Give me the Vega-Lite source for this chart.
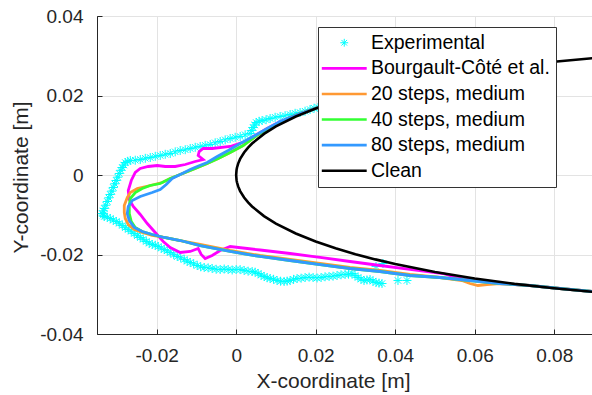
{
  "$schema": "https://vega.github.io/schema/vega-lite/v6.json",
  "width": 495,
  "height": 318,
  "autosize": {"type": "none"},
  "padding": {"left": 97, "top": 16, "right": 0, "bottom": 61},
  "background": "white",
  "config": {
    "view": {"stroke": "#262626", "strokeWidth": 1},
    "font": "Liberation Sans",
    "axis": {
      "domainColor": "#262626",
      "tickColor": "#262626",
      "tickSize": -5,
      "gridColor": "#E3E3E3",
      "labelFontSize": 19,
      "labelColor": "#262626",
      "labelFlush": false,
      "labelOverlap": false,
      "titleFontSize": 21,
      "titleColor": "#262626",
      "titleFontWeight": "normal"
    }
  },
  "datasets": {
    "exp": [
      {"series":"Experimental","x":0.02060,"y":0.01698},{"series":"Experimental","x":0.01960,"y":0.01680},{"series":"Experimental","x":0.01859,"y":0.01648},{"series":"Experimental","x":0.01733,"y":0.01605},{"series":"Experimental","x":0.01608,"y":0.01572},{"series":"Experimental","x":0.01483,"y":0.01552},{"series":"Experimental","x":0.01357,"y":0.01522},{"series":"Experimental","x":0.01231,"y":0.01492},{"series":"Experimental","x":0.01106,"y":0.01472},{"series":"Experimental","x":0.00980,"y":0.01452},{"series":"Experimental","x":0.00854,"y":0.01421},{"series":"Experimental","x":0.00753,"y":0.01391},{"series":"Experimental","x":0.00653,"y":0.01371},{"series":"Experimental","x":0.00578,"y":0.01351},{"series":"Experimental","x":0.00503,"y":0.01321},{"series":"Experimental","x":0.00465,"y":0.01258},{"series":"Experimental","x":0.00427,"y":0.01195},{"series":"Experimental","x":0.00390,"y":0.01120},{"series":"Experimental","x":0.00352,"y":0.01044},{"series":"Experimental","x":0.00226,"y":0.01012},{"series":"Experimental","x":0.00101,"y":0.00969},{"series":"Experimental","x":-0.00025,"y":0.00949},{"series":"Experimental","x":-0.00151,"y":0.00918},{"series":"Experimental","x":-0.00276,"y":0.00885},{"series":"Experimental","x":-0.00402,"y":0.00843},{"series":"Experimental","x":-0.00528,"y":0.00810},{"series":"Experimental","x":-0.00653,"y":0.00767},{"series":"Experimental","x":-0.00779,"y":0.00747},{"series":"Experimental","x":-0.00905,"y":0.00717},{"series":"Experimental","x":-0.01030,"y":0.00697},{"series":"Experimental","x":-0.01156,"y":0.00667},{"series":"Experimental","x":-0.01281,"y":0.00636},{"series":"Experimental","x":-0.01407,"y":0.00616},{"series":"Experimental","x":-0.01533,"y":0.00583},{"series":"Experimental","x":-0.01658,"y":0.00541},{"series":"Experimental","x":-0.01784,"y":0.00521},{"series":"Experimental","x":-0.01910,"y":0.00491},{"series":"Experimental","x":-0.02035,"y":0.00470},{"series":"Experimental","x":-0.02161,"y":0.00440},{"series":"Experimental","x":-0.02286,"y":0.00420},{"series":"Experimental","x":-0.02412,"y":0.00390},{"series":"Experimental","x":-0.02538,"y":0.00372},{"series":"Experimental","x":-0.02663,"y":0.00365},{"series":"Experimental","x":-0.02726,"y":0.00345},{"series":"Experimental","x":-0.02789,"y":0.00314},{"series":"Experimental","x":-0.02826,"y":0.00250},{"series":"Experimental","x":-0.02864,"y":0.00189},{"series":"Experimental","x":-0.02902,"y":0.00118},{"series":"Experimental","x":-0.02940,"y":0.00038},{"series":"Experimental","x":-0.02977,"y":-0.00055},{"series":"Experimental","x":-0.03015,"y":-0.00138},{"series":"Experimental","x":-0.03053,"y":-0.00221},{"series":"Experimental","x":-0.03090,"y":-0.00314},{"series":"Experimental","x":-0.03128,"y":-0.00405},{"series":"Experimental","x":-0.03166,"y":-0.00491},{"series":"Experimental","x":-0.03204,"y":-0.00574},{"series":"Experimental","x":-0.03241,"y":-0.00667},{"series":"Experimental","x":-0.03279,"y":-0.00760},{"series":"Experimental","x":-0.03317,"y":-0.00843},{"series":"Experimental","x":-0.03342,"y":-0.00901},{"series":"Experimental","x":-0.03367,"y":-0.00969},{"series":"Experimental","x":-0.03347,"y":-0.01010},{"series":"Experimental","x":-0.03317,"y":-0.01044},{"series":"Experimental","x":-0.03241,"y":-0.01065},{"series":"Experimental","x":-0.03166,"y":-0.01094},{"series":"Experimental","x":-0.03090,"y":-0.01137},{"series":"Experimental","x":-0.03015,"y":-0.01170},{"series":"Experimental","x":-0.02940,"y":-0.01215},{"series":"Experimental","x":-0.02864,"y":-0.01270},{"series":"Experimental","x":-0.02789,"y":-0.01325},{"series":"Experimental","x":-0.02714,"y":-0.01371},{"series":"Experimental","x":-0.02638,"y":-0.01416},{"series":"Experimental","x":-0.02563,"y":-0.01472},{"series":"Experimental","x":-0.02487,"y":-0.01527},{"series":"Experimental","x":-0.02412,"y":-0.01572},{"series":"Experimental","x":-0.02337,"y":-0.01618},{"series":"Experimental","x":-0.02261,"y":-0.01673},{"series":"Experimental","x":-0.02186,"y":-0.01716},{"series":"Experimental","x":-0.02111,"y":-0.01748},{"series":"Experimental","x":-0.02035,"y":-0.01768},{"series":"Experimental","x":-0.01960,"y":-0.01799},{"series":"Experimental","x":-0.01884,"y":-0.01842},{"series":"Experimental","x":-0.01809,"y":-0.01874},{"series":"Experimental","x":-0.01733,"y":-0.01908},{"series":"Experimental","x":-0.01658,"y":-0.01950},{"series":"Experimental","x":-0.01570,"y":-0.02005},{"series":"Experimental","x":-0.01482,"y":-0.02050},{"series":"Experimental","x":-0.01394,"y":-0.02083},{"series":"Experimental","x":-0.01307,"y":-0.02126},{"series":"Experimental","x":-0.01231,"y":-0.02170},{"series":"Experimental","x":-0.01156,"y":-0.02201},{"series":"Experimental","x":-0.01068,"y":-0.02235},{"series":"Experimental","x":-0.00980,"y":-0.02277},{"series":"Experimental","x":-0.00892,"y":-0.02309},{"series":"Experimental","x":-0.00804,"y":-0.02327},{"series":"Experimental","x":-0.00704,"y":-0.02336},{"series":"Experimental","x":-0.00603,"y":-0.02352},{"series":"Experimental","x":-0.00503,"y":-0.02372},{"series":"Experimental","x":-0.00402,"y":-0.02377},{"series":"Experimental","x":-0.00301,"y":-0.02365},{"series":"Experimental","x":-0.00201,"y":-0.02377},{"series":"Experimental","x":-0.00100,"y":-0.02390},{"series":"Experimental","x":0.00000,"y":-0.02377},{"series":"Experimental","x":0.00100,"y":-0.02380},{"series":"Experimental","x":0.00201,"y":-0.02402},{"series":"Experimental","x":0.00301,"y":-0.02420},{"series":"Experimental","x":0.00402,"y":-0.02428},{"series":"Experimental","x":0.00477,"y":-0.02445},{"series":"Experimental","x":0.00553,"y":-0.02478},{"series":"Experimental","x":0.00628,"y":-0.02520},{"series":"Experimental","x":0.00704,"y":-0.02553},{"series":"Experimental","x":0.00779,"y":-0.02585},{"series":"Experimental","x":0.00854,"y":-0.02604},{"series":"Experimental","x":0.00942,"y":-0.02624},{"series":"Experimental","x":0.01030,"y":-0.02654},{"series":"Experimental","x":0.01118,"y":-0.02672},{"series":"Experimental","x":0.01206,"y":-0.02679},{"series":"Experimental","x":0.01282,"y":-0.02670},{"series":"Experimental","x":0.01357,"y":-0.02654},{"series":"Experimental","x":0.01445,"y":-0.02625},{"series":"Experimental","x":0.01533,"y":-0.02604},{"series":"Experimental","x":0.01633,"y":-0.02596},{"series":"Experimental","x":0.01734,"y":-0.02579},{"series":"Experimental","x":0.01835,"y":-0.02570},{"series":"Experimental","x":0.01935,"y":-0.02579},{"series":"Experimental","x":0.02035,"y":-0.02590},{"series":"Experimental","x":0.02136,"y":-0.02579},{"series":"Experimental","x":0.02236,"y":-0.02560},{"series":"Experimental","x":0.02337,"y":-0.02553},{"series":"Experimental","x":0.02437,"y":-0.02545},{"series":"Experimental","x":0.02538,"y":-0.02528},{"series":"Experimental","x":0.02638,"y":-0.02510},{"series":"Experimental","x":0.02739,"y":-0.02503},{"series":"Experimental","x":0.02827,"y":-0.02495},{"series":"Experimental","x":0.02915,"y":-0.02478},{"series":"Experimental","x":0.02990,"y":-0.02530},{"series":"Experimental","x":0.03065,"y":-0.02579},{"series":"Experimental","x":0.03140,"y":-0.02620},{"series":"Experimental","x":0.03216,"y":-0.02654},{"series":"Experimental","x":0.03290,"y":-0.02640},{"series":"Experimental","x":0.03367,"y":-0.02629},{"series":"Experimental","x":0.03442,"y":-0.02670},{"series":"Experimental","x":0.03518,"y":-0.02704},{"series":"Experimental","x":0.03593,"y":-0.02720},{"series":"Experimental","x":0.03668,"y":-0.02730},{"series":"Experimental","x":0.03518,"y":-0.02302},{"series":"Experimental","x":0.03693,"y":-0.02226},{"series":"Experimental","x":0.04070,"y":-0.02654},{"series":"Experimental","x":0.04296,"y":-0.02654}
    ],
    "lines": [
      {"s":"B","i":0,"x":0.02362,"y":0.01799},{"s":"B","i":1,"x":0.02060,"y":0.01698},{"s":"B","i":2,"x":0.01608,"y":0.01547},{"s":"B","i":3,"x":0.01357,"y":0.01447},{"s":"B","i":4,"x":0.01106,"y":0.01346},{"s":"B","i":5,"x":0.00779,"y":0.01170},{"s":"B","i":6,"x":0.00477,"y":0.00994},{"s":"B","i":7,"x":0.00226,"y":0.00843},{"s":"B","i":8,"x":-0.00151,"y":0.00717},{"s":"B","i":9,"x":-0.00603,"y":0.00667},{"s":"B","i":10,"x":-0.00829,"y":0.00667},{"s":"B","i":11,"x":-0.00930,"y":0.00591},{"s":"B","i":12,"x":-0.00955,"y":0.00491},{"s":"B","i":13,"x":-0.00829,"y":0.00390},{"s":"B","i":14,"x":-0.01030,"y":0.00340},{"s":"B","i":15,"x":-0.01281,"y":0.00264},{"s":"B","i":16,"x":-0.01533,"y":0.00214},{"s":"B","i":17,"x":-0.01784,"y":0.00214},{"s":"B","i":18,"x":-0.01985,"y":0.00239},{"s":"B","i":19,"x":-0.02211,"y":0.00214},{"s":"B","i":20,"x":-0.02412,"y":0.00164},{"s":"B","i":21,"x":-0.02538,"y":0.00063},{"s":"B","i":22,"x":-0.02638,"y":-0.00138},{"s":"B","i":23,"x":-0.02714,"y":-0.00390},{"s":"B","i":24,"x":-0.02688,"y":-0.00616},{"s":"B","i":25,"x":-0.02588,"y":-0.00792},{"s":"B","i":26,"x":-0.02412,"y":-0.00994},{"s":"B","i":27,"x":-0.02236,"y":-0.01220},{"s":"B","i":28,"x":-0.02035,"y":-0.01447},{"s":"B","i":29,"x":-0.01834,"y":-0.01673},{"s":"B","i":30,"x":-0.01658,"y":-0.01824},{"s":"B","i":31,"x":-0.01407,"y":-0.01950},{"s":"B","i":32,"x":-0.01156,"y":-0.01924},{"s":"B","i":33,"x":-0.00955,"y":-0.01849},{"s":"B","i":34,"x":-0.00879,"y":-0.02000},{"s":"B","i":35,"x":-0.00779,"y":-0.02101},{"s":"B","i":36,"x":-0.00603,"y":-0.02025},{"s":"B","i":37,"x":-0.00402,"y":-0.01899},{"s":"B","i":38,"x":-0.00151,"y":-0.01799},{"s":"B","i":39,"x":0.00603,"y":-0.01887},{"s":"B","i":40,"x":0.01357,"y":-0.01975},{"s":"B","i":41,"x":0.02111,"y":-0.02075},{"s":"B","i":42,"x":0.02864,"y":-0.02176},{"s":"B","i":43,"x":0.03618,"y":-0.02277},{"s":"B","i":44,"x":0.04372,"y":-0.02377},{"s":"B","i":45,"x":0.05201,"y":-0.02478},{"s":"B","i":46,"x":0.05628,"y":-0.02604},{"s":"B","i":47,"x":0.06633,"y":-0.02730},{"s":"B","i":48,"x":0.07387,"y":-0.02780},{"s":"B","i":49,"x":0.08141,"y":-0.02855},{"s":"B","i":50,"x":0.08945,"y":-0.02931},
      {"s":"S20","i":0,"x":0.02362,"y":0.01799},{"s":"S20","i":1,"x":0.02060,"y":0.01698},{"s":"S20","i":2,"x":0.01608,"y":0.01547},{"s":"S20","i":3,"x":0.01357,"y":0.01447},{"s":"S20","i":4,"x":0.01106,"y":0.01321},{"s":"S20","i":5,"x":0.00854,"y":0.01195},{"s":"S20","i":6,"x":0.00553,"y":0.01019},{"s":"S20","i":7,"x":0.00176,"y":0.00742},{"s":"S20","i":8,"x":-0.00151,"y":0.00566},{"s":"S20","i":9,"x":-0.00452,"y":0.00415},{"s":"S20","i":10,"x":-0.00729,"y":0.00289},{"s":"S20","i":11,"x":-0.01030,"y":0.00164},{"s":"S20","i":12,"x":-0.01407,"y":0.00013},{"s":"S20","i":13,"x":-0.01658,"y":-0.00088},{"s":"S20","i":14,"x":-0.01859,"y":-0.00189},{"s":"S20","i":15,"x":-0.02161,"y":-0.00264},{"s":"S20","i":16,"x":-0.02487,"y":-0.00340},{"s":"S20","i":17,"x":-0.02663,"y":-0.00440},{"s":"S20","i":18,"x":-0.02739,"y":-0.00566},{"s":"S20","i":19,"x":-0.02814,"y":-0.00767},{"s":"S20","i":20,"x":-0.02814,"y":-0.00943},{"s":"S20","i":21,"x":-0.02789,"y":-0.01094},{"s":"S20","i":22,"x":-0.02714,"y":-0.01245},{"s":"S20","i":23,"x":-0.02563,"y":-0.01371},{"s":"S20","i":24,"x":-0.02362,"y":-0.01447},{"s":"S20","i":25,"x":-0.02111,"y":-0.01522},{"s":"S20","i":26,"x":-0.01809,"y":-0.01572},{"s":"S20","i":27,"x":-0.01407,"y":-0.01648},{"s":"S20","i":28,"x":-0.00905,"y":-0.01748},{"s":"S20","i":29,"x":-0.00151,"y":-0.01899},{"s":"S20","i":30,"x":0.00603,"y":-0.02025},{"s":"S20","i":31,"x":0.01357,"y":-0.02126},{"s":"S20","i":32,"x":0.02111,"y":-0.02226},{"s":"S20","i":33,"x":0.02864,"y":-0.02327},{"s":"S20","i":34,"x":0.03618,"y":-0.02402},{"s":"S20","i":35,"x":0.04372,"y":-0.02503},{"s":"S20","i":36,"x":0.05126,"y":-0.02579},{"s":"S20","i":37,"x":0.05678,"y":-0.02654},{"s":"S20","i":38,"x":0.05879,"y":-0.02730},{"s":"S20","i":39,"x":0.06080,"y":-0.02780},{"s":"S20","i":40,"x":0.06307,"y":-0.02755},{"s":"S20","i":41,"x":0.06633,"y":-0.02730},{"s":"S20","i":42,"x":0.07387,"y":-0.02780},{"s":"S20","i":43,"x":0.08141,"y":-0.02855},{"s":"S20","i":44,"x":0.08945,"y":-0.02931},
      {"s":"S40","i":0,"x":0.02362,"y":0.01799},{"s":"S40","i":1,"x":0.02060,"y":0.01698},{"s":"S40","i":2,"x":0.01608,"y":0.01547},{"s":"S40","i":3,"x":0.01357,"y":0.01447},{"s":"S40","i":4,"x":0.01106,"y":0.01321},{"s":"S40","i":5,"x":0.00854,"y":0.01195},{"s":"S40","i":6,"x":0.00553,"y":0.01019},{"s":"S40","i":7,"x":0.00176,"y":0.00742},{"s":"S40","i":8,"x":-0.00151,"y":0.00566},{"s":"S40","i":9,"x":-0.00452,"y":0.00415},{"s":"S40","i":10,"x":-0.00729,"y":0.00289},{"s":"S40","i":11,"x":-0.01030,"y":0.00164},{"s":"S40","i":12,"x":-0.01407,"y":0.00013},{"s":"S40","i":13,"x":-0.01658,"y":-0.00088},{"s":"S40","i":14,"x":-0.01910,"y":-0.00214},{"s":"S40","i":15,"x":-0.02161,"y":-0.00264},{"s":"S40","i":16,"x":-0.02362,"y":-0.00340},{"s":"S40","i":17,"x":-0.02538,"y":-0.00440},{"s":"S40","i":18,"x":-0.02663,"y":-0.00591},{"s":"S40","i":19,"x":-0.02688,"y":-0.00767},{"s":"S40","i":20,"x":-0.02688,"y":-0.00969},{"s":"S40","i":21,"x":-0.02638,"y":-0.01170},{"s":"S40","i":22,"x":-0.02538,"y":-0.01321},{"s":"S40","i":23,"x":-0.02362,"y":-0.01421},{"s":"S40","i":24,"x":-0.02111,"y":-0.01497},{"s":"S40","i":25,"x":-0.01809,"y":-0.01572},{"s":"S40","i":26,"x":-0.01407,"y":-0.01648},{"s":"S40","i":27,"x":-0.00905,"y":-0.01774},{"s":"S40","i":28,"x":-0.00151,"y":-0.01924},{"s":"S40","i":29,"x":0.00603,"y":-0.02050},{"s":"S40","i":30,"x":0.01357,"y":-0.02151},{"s":"S40","i":31,"x":0.02111,"y":-0.02252},{"s":"S40","i":32,"x":0.02864,"y":-0.02352},{"s":"S40","i":33,"x":0.03618,"y":-0.02428},{"s":"S40","i":34,"x":0.04372,"y":-0.02528},{"s":"S40","i":35,"x":0.05126,"y":-0.02579},{"s":"S40","i":36,"x":0.05879,"y":-0.02654},{"s":"S40","i":37,"x":0.06633,"y":-0.02730},{"s":"S40","i":38,"x":0.07387,"y":-0.02780},{"s":"S40","i":39,"x":0.08141,"y":-0.02855},{"s":"S40","i":40,"x":0.08945,"y":-0.02931},
      {"s":"S80","i":0,"x":0.02362,"y":0.01799},{"s":"S80","i":1,"x":0.02060,"y":0.01698},{"s":"S80","i":2,"x":0.01608,"y":0.01547},{"s":"S80","i":3,"x":0.01357,"y":0.01447},{"s":"S80","i":4,"x":0.01106,"y":0.01346},{"s":"S80","i":5,"x":0.00779,"y":0.01170},{"s":"S80","i":6,"x":0.00477,"y":0.00994},{"s":"S80","i":7,"x":0.00101,"y":0.00792},{"s":"S80","i":8,"x":-0.00201,"y":0.00616},{"s":"S80","i":9,"x":-0.00477,"y":0.00465},{"s":"S80","i":10,"x":-0.00729,"y":0.00314},{"s":"S80","i":11,"x":-0.00980,"y":0.00214},{"s":"S80","i":12,"x":-0.01156,"y":0.00138},{"s":"S80","i":13,"x":-0.01407,"y":0.00013},{"s":"S80","i":14,"x":-0.01608,"y":-0.00088},{"s":"S80","i":15,"x":-0.01759,"y":-0.00239},{"s":"S80","i":16,"x":-0.01910,"y":-0.00365},{"s":"S80","i":17,"x":-0.02111,"y":-0.00440},{"s":"S80","i":18,"x":-0.02412,"y":-0.00541},{"s":"S80","i":19,"x":-0.02613,"y":-0.00641},{"s":"S80","i":20,"x":-0.02714,"y":-0.00792},{"s":"S80","i":21,"x":-0.02739,"y":-0.00969},{"s":"S80","i":22,"x":-0.02688,"y":-0.01145},{"s":"S80","i":23,"x":-0.02563,"y":-0.01321},{"s":"S80","i":24,"x":-0.02362,"y":-0.01421},{"s":"S80","i":25,"x":-0.02111,"y":-0.01497},{"s":"S80","i":26,"x":-0.01809,"y":-0.01572},{"s":"S80","i":27,"x":-0.01407,"y":-0.01648},{"s":"S80","i":28,"x":-0.00905,"y":-0.01774},{"s":"S80","i":29,"x":-0.00151,"y":-0.01924},{"s":"S80","i":30,"x":0.00603,"y":-0.02050},{"s":"S80","i":31,"x":0.01357,"y":-0.02151},{"s":"S80","i":32,"x":0.02111,"y":-0.02252},{"s":"S80","i":33,"x":0.02864,"y":-0.02352},{"s":"S80","i":34,"x":0.03618,"y":-0.02428},{"s":"S80","i":35,"x":0.04372,"y":-0.02528},{"s":"S80","i":36,"x":0.05126,"y":-0.02579},{"s":"S80","i":37,"x":0.05879,"y":-0.02654},{"s":"S80","i":38,"x":0.06633,"y":-0.02730},{"s":"S80","i":39,"x":0.07387,"y":-0.02780},{"s":"S80","i":40,"x":0.08141,"y":-0.02855},{"s":"S80","i":41,"x":0.08945,"y":-0.02931},
      {"s":"C","i":0,"x":0.09,"y":0.02943},{"s":"C","i":1,"x":0.08,"y":0.02851},{"s":"C","i":2,"x":0.07,"y":0.02739},{"s":"C","i":3,"x":0.06,"y":0.02603},{"s":"C","i":4,"x":0.05,"y":0.02440},{"s":"C","i":5,"x":0.04,"y":0.02240},{"s":"C","i":6,"x":0.035,"y":0.02123},{"s":"C","i":7,"x":0.03,"y":0.01993},{"s":"C","i":8,"x":0.025,"y":0.01844},{"s":"C","i":9,"x":0.02,"y":0.01673},{"s":"C","i":10,"x":0.015,"y":0.01471},{"s":"C","i":11,"x":0.01,"y":0.01222},{"s":"C","i":12,"x":0.007,"y":0.01034},{"s":"C","i":13,"x":0.004,"y":0.00792},{"s":"C","i":14,"x":0.003,"y":0.00690},{"s":"C","i":15,"x":0.002,"y":0.00567},{"s":"C","i":16,"x":0.001,"y":0.00404},{"s":"C","i":17,"x":0.0005,"y":0.00287},{"s":"C","i":18,"x":0.0002,"y":0.00183},{"s":"C","i":19,"x":0.0001,"y":0.00129},{"s":"C","i":20,"x":0,"y":0},{"s":"C","i":21,"x":0.0001,"y":-0.00129},{"s":"C","i":22,"x":0.0002,"y":-0.00183},{"s":"C","i":23,"x":0.0005,"y":-0.00287},{"s":"C","i":24,"x":0.001,"y":-0.00404},{"s":"C","i":25,"x":0.002,"y":-0.00567},{"s":"C","i":26,"x":0.003,"y":-0.00690},{"s":"C","i":27,"x":0.004,"y":-0.00792},{"s":"C","i":28,"x":0.007,"y":-0.01034},{"s":"C","i":29,"x":0.01,"y":-0.01222},{"s":"C","i":30,"x":0.015,"y":-0.01471},{"s":"C","i":31,"x":0.02,"y":-0.01673},{"s":"C","i":32,"x":0.025,"y":-0.01844},{"s":"C","i":33,"x":0.03,"y":-0.01993},{"s":"C","i":34,"x":0.035,"y":-0.02123},{"s":"C","i":35,"x":0.04,"y":-0.02240},{"s":"C","i":36,"x":0.05,"y":-0.02440},{"s":"C","i":37,"x":0.06,"y":-0.02603},{"s":"C","i":38,"x":0.07,"y":-0.02739},{"s":"C","i":39,"x":0.08,"y":-0.02851},{"s":"C","i":40,"x":0.09,"y":-0.02943}
    ],
    "xticks": [{"x":-0.02},{"x":0},{"x":0.02},{"x":0.04},{"x":0.06},{"x":0.08}],
    "yticks": [{"y":-0.02},{"y":0},{"y":0.02}]
  },
  "encoding": {
    "x": {
      "field": "x", "type": "quantitative",
      "scale": {"domain": [-0.035, 0.0895], "nice": false, "zero": false},
      "axis": {
        "title": "X-coordinate [m]",
        "values": [-0.02, 0, 0.02, 0.04, 0.06, 0.08],
        "labelExpr": "datum.value == 0 ? '0' : (datum.value < 0 ? '-' + format(-datum.value, '.2f') : format(datum.value, '.2f'))",
        "labelPadding": 17,
        "titleX": 236, "titleY": 53, "titleAlign": "center", "titleBaseline": "alphabetic"
      }
    },
    "y": {
      "field": "y", "type": "quantitative",
      "scale": {"domain": [-0.04, 0.04], "nice": false, "zero": false},
      "axis": {
        "title": "Y-coordinate [m]",
        "values": [-0.04, -0.02, 0, 0.02, 0.04],
        "labelExpr": "datum.value == 0 ? '0' : (datum.value < 0 ? '-' + format(-datum.value, '.2f') : format(datum.value, '.2f'))",
        "labelPadding": 19,
        "titleX": -70, "titleY": 161, "titleAlign": "center", "titleBaseline": "alphabetic", "titleAngle": -90
      }
    }
  },
  "layer": [
    {
      "data": {"name": "exp"},
      "mark": {"type": "point", "filled": false, "size": 165, "strokeWidth": 1, "opacity": 1, "clip": true},
      "encoding": {
        "color": {
          "field": "series", "type": "nominal",
          "scale": {
            "domain": ["Experimental", "Bourgault-Côté et al.", "20 steps, medium", "40 steps, medium", "80 steps, medium", "Clean"],
            "range": ["#00FFFF", "#FF00FF", "#FF9933", "#33FF33", "#3399FF", "#000000"]
          },
          "legend": {
            "orient": "none", "legendX": 221, "legendY": 11, "title": null,
            "labelFontSize": 19.5, "labelColor": "#000000", "labelFont": "Liberation Sans", "labelLimit": 400,
            "symbolSize": 126, "symbolStrokeWidth": 2.6, "symbolOffset": 10.5, "labelOffset": 17,
            "rowPadding": 4.6, "padding": 6, "fillColor": "white", "strokeColor": "#333333", "cornerRadius": 0
          }
        },
        "shape": {
          "field": "series", "type": "nominal",
          "scale": {
            "domain": ["Experimental", "Bourgault-Côté et al.", "20 steps, medium", "40 steps, medium", "80 steps, medium", "Clean"],
            "range": ["M0,-0.7L0,0.7M-0.7,0L0.7,0M-0.5,-0.5L0.5,0.5M-0.5,0.5L0.5,-0.5", "M-4,0L4,0", "M-4,0L4,0", "M-4,0L4,0", "M-4,0L4,0", "M-4,0L4,0"]
          }
        },
        "strokeWidth": {
          "field": "series", "type": "nominal",
          "scale": {
            "type": "ordinal",
            "domain": ["Experimental", "Bourgault-Côté et al.", "20 steps, medium", "40 steps, medium", "80 steps, medium", "Clean"],
            "range": [1, 2.6, 2.6, 2.6, 2.6, 2.6]
          }
        }
      }
    },
    {
      "data": {"name": "lines"},
      "transform": [{"filter": "datum.s == 'B'"}],
      "mark": {"type": "line", "color": "#FF00FF", "strokeWidth": 2.8, "clip": true},
      "encoding": {"order": {"field": "i", "type": "quantitative"}}
    },
    {
      "data": {"name": "lines"},
      "transform": [{"filter": "datum.s == 'S20'"}],
      "mark": {"type": "line", "color": "#FF9933", "strokeWidth": 2.8, "clip": true},
      "encoding": {"order": {"field": "i", "type": "quantitative"}}
    },
    {
      "data": {"name": "lines"},
      "transform": [{"filter": "datum.s == 'S40'"}],
      "mark": {"type": "line", "color": "#33FF33", "strokeWidth": 2.8, "clip": true},
      "encoding": {"order": {"field": "i", "type": "quantitative"}}
    },
    {
      "data": {"name": "lines"},
      "transform": [{"filter": "datum.s == 'S80'"}],
      "mark": {"type": "line", "color": "#3399FF", "strokeWidth": 2.8, "clip": true},
      "encoding": {"order": {"field": "i", "type": "quantitative"}}
    },
    {
      "data": {"name": "lines"},
      "transform": [{"filter": "datum.s == 'C'"}],
      "mark": {"type": "line", "color": "#000000", "strokeWidth": 2.6, "clip": true},
      "encoding": {"order": {"field": "i", "type": "quantitative"}}
    },
    {
      "data": {"name": "xticks"},
      "mark": {"type": "rule", "color": "#262626", "strokeWidth": 1},
      "encoding": {
        "y": {
          "datum": 0.04, "type": "quantitative",
          "scale": {"domain": [-0.04, 0.04], "nice": false, "zero": false},
          "axis": {
            "title": "Y-coordinate [m]",
            "values": [-0.04, -0.02, 0, 0.02, 0.04],
            "labelExpr": "datum.value == 0 ? '0' : (datum.value < 0 ? '-' + format(-datum.value, '.2f') : format(datum.value, '.2f'))",
            "labelPadding": 19,
            "titleX": -70, "titleY": 161, "titleAlign": "center", "titleBaseline": "alphabetic", "titleAngle": -90
          }
        },
        "y2": {"datum": 0.03874}
      }
    },
    {
      "data": {"name": "yticks"},
      "mark": {"type": "rule", "color": "#262626", "strokeWidth": 1},
      "encoding": {
        "x": {
          "datum": 0.0895, "type": "quantitative",
          "scale": {"domain": [-0.035, 0.0895], "nice": false, "zero": false},
          "axis": {
            "title": "X-coordinate [m]",
            "values": [-0.02, 0, 0.02, 0.04, 0.06, 0.08],
            "labelExpr": "datum.value == 0 ? '0' : (datum.value < 0 ? '-' + format(-datum.value, '.2f') : format(datum.value, '.2f'))",
            "labelPadding": 17,
            "titleX": 236, "titleY": 53, "titleAlign": "center", "titleBaseline": "alphabetic"
          }
        },
        "x2": {"datum": 0.08824}
      }
    }
  ]
}
